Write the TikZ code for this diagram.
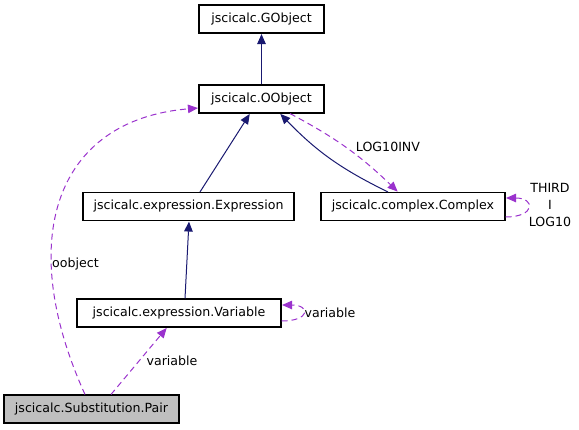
\documentclass[tikz,border=0pt]{standalone}
\usepackage{fontspec}
\setmainfont{DejaVu Sans}
\usetikzlibrary{arrows.meta}
\definecolor{inhcol}{HTML}{191970}
\definecolor{usecol}{HTML}{9A32CD}
\definecolor{curcol}{HTML}{BFBFBF}

\begin{document}
\begin{tikzpicture}[x=1pt,y=-1pt,
			font=\fontsize{12.6}{14}\selectfont,
			box/.style={draw,line width=1.1pt,fill=white,minimum height=28pt,inner xsep=2pt},
			inherit/.style={draw=inhcol,line width=1pt,-{Triangle[length=10pt,width=8.5pt]},
				shorten >=0.5pt},
			uses/.style={draw=usecol,line width=1pt,dash pattern=on 6pt off 4pt,
				-{Triangle[length=10pt,width=8.5pt]},shorten >=0.5pt},
			lbl/.style={inner sep=1pt}]
		\useasboundingbox (0,0) rectangle (579,429);

		\node[box,minimum width=125pt] (gobject) at (261.5,19) {jscicalc.GObject};
		\node[box,minimum width=125pt] (oobject) at (261.5,99) {jscicalc.OObject};
		\node[box,minimum width=211pt] (expression) at (188.5,206.5) {jscicalc.expression.Expression};
		\node[box,minimum width=184pt] (complex) at (413,206.5) {jscicalc.complex.Complex};
		\node[box,minimum width=204pt] (variable) at (179,313) {jscicalc.expression.Variable};
		\node[box,fill=curcol,minimum width=175pt] (pair) at (91.5,409) {jscicalc.Substitution.Pair};

		% inheritance
		\draw[inherit] (oobject) -- (gobject);
		\draw[inherit] ([xshift=11.5pt]expression.north) -- ([xshift=-11.5pt]oobject.south);
		\draw[inherit] ([xshift=-25pt]complex.north) to[bend left=10] ([xshift=18.5pt]oobject.south);
		\draw[inherit] ([xshift=6pt]variable.north) -- ([xshift=0.5pt]expression.south);

		% usage
		\draw[uses] ([xshift=28.5pt]oobject.south) to[bend left=8] ([xshift=-15pt]complex.north);
		\node[lbl] (l_log) at (388,147) {LOG10INV};

		\draw[uses] ([yshift=-10.5pt]complex.east) .. controls +(30,0) and +(30,0) .. ([yshift=8.5pt]complex.east);
		\node[lbl,align=center,font=\fontsize{12.6}{17}\selectfont] (l_third) at (550,205) {THIRD\\I\\LOG10};

		\draw[uses] ([yshift=-8pt]variable.east) .. controls +(29,0) and +(29,0) .. ([yshift=8pt]variable.east);
		\node[lbl] (l_var1) at (330,313) {variable};

		\draw[uses] ([xshift=19.5pt]pair.north) -- ([xshift=-12pt]variable.south);
		\node[lbl] (l_var2) at (172,361) {variable};

		\draw[uses] ([xshift=-6.5pt]pair.north) .. controls (15,240) and (55,120) .. ([yshift=-9pt]oobject.west);
		\node[lbl,anchor=west] (l_oobj) at (51,264) {oobject};

	  	\end{tikzpicture}
\end{document}
